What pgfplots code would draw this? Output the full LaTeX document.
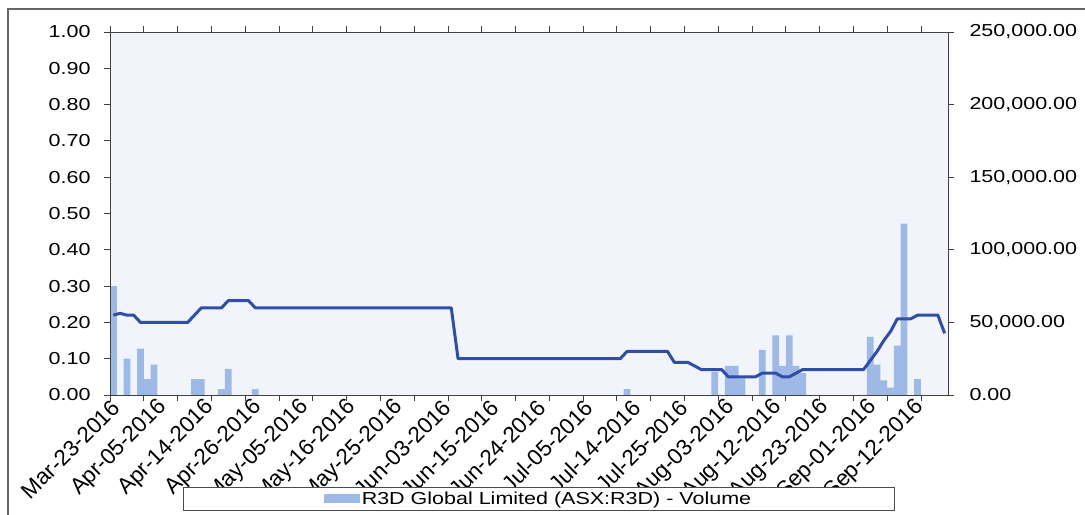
\documentclass[border=0pt]{standalone}
\usepackage{fontspec}
\setmainfont{Liberation Sans}[FakeStretch=1.24]
\newfontfamily\xlabfont{Liberation Sans}
\usepackage{pgfplots}
\pgfplotsset{compat=1.18}

\definecolor{barblue}{RGB}{158,185,230}
\definecolor{lineblue}{RGB}{48,78,168}
\definecolor{plotbg}{RGB}{241,244,251}

\begin{document}
\begin{tikzpicture}
\path[use as bounding box] (0,0) rectangle (1085bp,515bp);
\draw[black!60, line width=1.2bp] (8bp,-2bp) -- (8bp,506bp) -- (1090bp,506bp);

% ---------- volume axis (right) ----------
\begin{axis}[
  at={(110bp,120bp)}, anchor=south west,
  scale only axis, width=838bp, height=363bp,
  xmin=-0.5, xmax=123.5, ymin=0, ymax=250000,
  axis background/.style={fill=plotbg},
  axis line style={black!75, line width=0.8bp},
  tick align=outside,
  major tick length=6bp, minor tick length=6bp,
  every tick/.style={black!75, line width=0.8bp},
  ytick={0,50000,100000,150000,200000,250000},
  ytick pos=right, yticklabel pos=right,
  scaled y ticks=false,
  yticklabel={\pgfmathprintnumber[fixed, fixed zerofill, precision=2, 1000 sep={,}, assume math mode=true]{\tick}},
  yticklabel style={font=\fontsize{17.4}{20}\selectfont, xshift=12bp},
  xtick={0,7,...,119},
  xticklabels={Mar-23-2016,Apr-05-2016,Apr-14-2016,Apr-26-2016,May-05-2016,May-16-2016,May-25-2016,Jun-03-2016,Jun-15-2016,Jun-24-2016,Jul-05-2016,Jul-14-2016,Jul-25-2016,Aug-03-2016,Aug-12-2016,Aug-23-2016,Sep-01-2016,Sep-12-2016},
  every major x tick/.append style={draw=none},
  minor xtick={-0.5,4.5,...,119.5},
  xticklabel style={font=\xlabfont\fontsize{22.5}{24}\selectfont, rotate=45, anchor=east, xshift=2bp, yshift=-4bp, inner sep=2bp},
  legend style={at={(0.5113,-0.2851)}, anchor=center, draw=black!70, fill=white,
    inner xsep=141bp, inner ysep=2.5bp, font=\fontsize{17.4}{20}\selectfont},
]
\addplot[ybar, bar width=1, bar shift=0pt, fill=barblue, draw=none,
  legend image code/.code={\fill[barblue] (0bp,-4.5bp) rectangle (36bp,4.5bp);}]
  coordinates {
  (0,75000) (2,25000) (4,32000) (5,11000) (6,21000)
  (12,11000) (13,11000) (16,4000) (17,18000) (21,4000)
  (76,4000) (89,16000) (91,20000) (92,20000) (93,11500)
  (96,31000) (98,41000) (99,20000) (100,41000) (101,20000) (102,15000)
  (112,40000) (113,21000) (114,10000) (115,5000) (116,34000) (117,118000) (119,11000)
  };
\addlegendentry{R3D Global Limited (ASX:R3D) - Volume}
\end{axis}

% ---------- price axis (left) ----------
\begin{axis}[
  at={(110bp,120bp)}, anchor=south west,
  scale only axis, width=838bp, height=363bp,
  xmin=-0.5, xmax=123.5, ymin=0, ymax=1,
  axis x line=none, axis y line*=left,
  axis line style={black!75, line width=0.8bp},
  tick align=outside, major tick length=6bp,
  every tick/.style={black!75, line width=0.8bp},
  ytick={0,0.1,0.2,0.3,0.4,0.5,0.6,0.7,0.8,0.9,1},
  yticklabel={\pgfmathprintnumber[fixed, fixed zerofill, precision=2, assume math mode=true]{\tick}},
  yticklabel style={font=\fontsize{17.4}{20}\selectfont, xshift=-10bp},
]
\addplot[lineblue, line width=3bp, line join=round, forget plot] coordinates {
  (0,0.22) (1,0.225) (2,0.22) (3,0.22) (4,0.20) (11,0.20) (12,0.22) (13,0.24)
  (16,0.24) (17,0.26) (20,0.26) (21,0.24) (50,0.24) (51,0.10) (75,0.10) (76,0.12)
  (82,0.12) (83,0.09) (85,0.09) (86,0.08) (87,0.07) (90,0.07) (91,0.05) (95,0.05)
  (96,0.06) (98,0.06) (99,0.05) (100,0.05) (101,0.06) (102,0.07) (111,0.07)
  (112,0.095) (113,0.12) (114,0.15) (115,0.175) (116,0.21) (118,0.21) (119,0.22)
  (122,0.22) (123,0.17)
};
\end{axis}
\end{tikzpicture}
\end{document}
